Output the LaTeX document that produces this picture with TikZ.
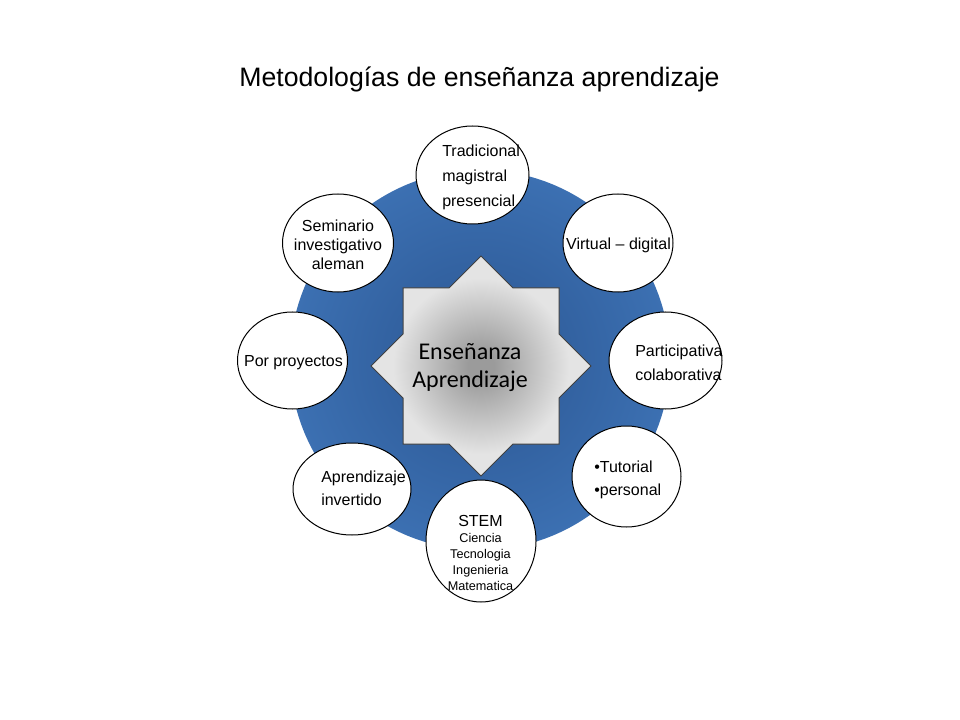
\documentclass[tikz,border=0pt]{standalone}
\usepackage{fontspec}
\setmainfont{Liberation Sans}
\newfontfamily\carl{Carlito}
\usetikzlibrary{shapes.geometric}
\definecolor{blueA}{RGB}{48,94,156}
\definecolor{blueB}{RGB}{60,112,178}
\definecolor{sD}{RGB}{155,155,155}
\definecolor{sL}{RGB}{228,228,228}
\definecolor{starline}{RGB}{64,64,64}
\pgfdeclareradialshading{bluesh}{\pgfpoint{0bp}{0bp}}{color(0bp)=(blueA); color(8bp)=(blueA); color(25bp)=(blueB); color(50bp)=(blueB)}
\pgfdeclareradialshading{starsh}{\pgfpoint{0bp}{0bp}}{color(0bp)=(sD); color(3bp)=(sD); color(20bp)=(sL); color(25bp)=(sL); color(50bp)=(sL)}
\tikzset{
  bub/.style 2 args={ellipse, draw=black, line width=0.75pt, fill=white, inner sep=0pt,
    minimum width=#1*0.75pt, minimum height=#2*0.75pt},
  txt/.style={inner sep=0pt, font=\fontsize{12pt}{14.25pt}\selectfont},
}
\begin{document}
\begin{tikzpicture}[x=0.75pt,y=-0.75pt]
\fill[white] (0,0) rectangle (960,720);
\useasboundingbox (0,0) rectangle (960,720);
% title
\node[inner sep=0pt, font=\fontsize{20pt}{24pt}\selectfont] (title) at (479.5,79) {Metodologías de enseñanza aprendizaje};
% blue disc
\node[circle, inner sep=0pt, minimum size=380*0.75pt, shading=bluesh] (disc) at (480,360) {};
% star
\begin{scope}[shift={(481,366)}]
\path[draw=starline, line width=0.75pt, line join=miter, shading=starsh]
 (0,-110) -- (32,-78) -- (78,-78) -- (78,-32) -- (110,0) -- (78,32) -- (78,78) -- (32,78)
 -- (0,110) -- (-32,78) -- (-78,78) -- (-78,32) -- (-110,0) -- (-78,-32) -- (-78,-78) -- (-32,-78) -- cycle;
\end{scope}
\node[inner sep=0pt, align=center, font=\carl\fontsize{18pt}{21pt}\selectfont] (center) at (470,368) {Enseñanza\\Aprendizaje};
% bubbles
\node[bub={113}{98}] (trad) at (472.5,175) {};
\node[bub={110}{98}] (virt) at (618,243) {};
\node[bub={111}{98}] (semi) at (338,243) {};
\node[bub={110}{97}] (proy) at (292.5,360.5) {};
\node[bub={113}{97}] (part) at (665.5,360.5) {};
\node[bub={118}{92}] (inv) at (352,489) {};
\node[bub={109}{101}] (tut) at (626.5,476.5) {};
\node[bub={110}{122}] (stem) at (481,541) {};
% texts
\node[txt, align=left, anchor=west, font=\fontsize{12pt}{18.75pt}\selectfont] (tradT) at (442,177) {Tradicional\\magistral\\presencial};
\node[txt] (virtT) at (618.5,245) {Virtual – digital};
\node[txt, align=center] (semiT) at (338,245) {Seminario\\investigativo\\aleman};
\node[txt] (proyT) at (293.5,362.5) {Por proyectos};
\node[txt, align=left, anchor=west, font=\fontsize{12pt}{18pt}\selectfont] (partT) at (635,363) {Participativa\\colaborativa};
\node[txt, align=left, anchor=west, font=\fontsize{12pt}{17.25pt}\selectfont] (invT) at (321,488.5) {Aprendizaje\\invertido};
\node[txt, align=left, anchor=west, font=\fontsize{12pt}{17.25pt}\selectfont] (tutT) at (594,479.5) {•Tutorial\\•personal};
\node[txt] (stemT) at (480.5,521) {STEM};
\node[txt, align=center, font=\fontsize{9.5pt}{12pt}\selectfont] (stemS) at (480.5,561.5) {Ciencia\\Tecnologia\\Ingenieria\\Matematica};
\end{tikzpicture}
\end{document}
